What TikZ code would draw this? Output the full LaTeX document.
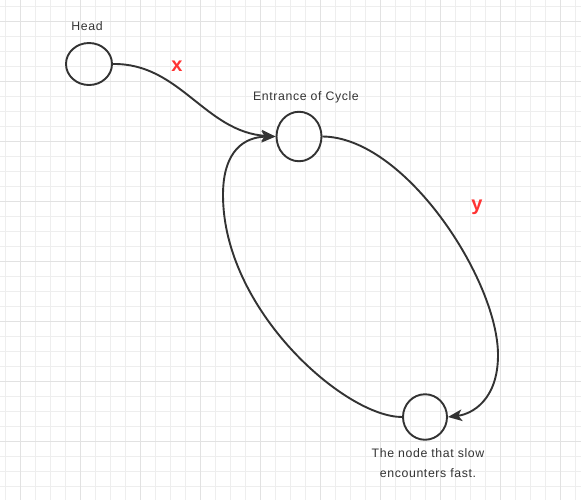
\documentclass[tikz,border=0pt]{standalone}
\usepackage{fontspec}
\setmainfont{Liberation Sans}
\usetikzlibrary{arrows.meta,shapes.geometric}
\definecolor{ink}{HTML}{333333}
\definecolor{redmark}{HTML}{FF3333}
\definecolor{gridminor}{HTML}{EEEEEE}
\definecolor{gridmajor}{HTML}{E2E2E2}
\tikzset{>={Stealth[length=14pt,width=11.5pt,inset=3.5pt]},
  every node/.style={font=\fontsize{12.3}{20}\selectfont\addfontfeatures{LetterSpace=5},text=ink},
  lnode/.style={draw=ink,line width=1.9pt,ellipse,inner sep=0pt},
  flow/.style={draw=ink,line width=1.9pt,->},
  len/.style={font=\fontsize{20}{20}\selectfont\bfseries,text=redmark}}

\begin{document}
\begin{tikzpicture}[x=1pt,y=-1pt]
\useasboundingbox (0,0) rectangle (581,499);\clip (0,0) rectangle (581,499);
\fill[white] (0,0) rectangle (581,499);
% background grid
\begin{scope}[shift={(5,6.5)}]\draw[gridminor,line width=.8pt,step=15pt] (-20,-20) grid (600,520);\end{scope}
\begin{scope}[shift={(20,21.5)}]\draw[gridmajor,line width=.8pt,step=60pt] (-80,-80) grid (620,540);\end{scope}
% list nodes
\node[lnode,minimum width=46pt,minimum height=42pt] (head) at (89,64) {};
\node[lnode,minimum width=45pt,minimum height=49.5pt] (ent) at (299,136.5) {};
\node[lnode,minimum width=44pt,minimum height=45.5pt] (meet) at (425,417) {};
\node[anchor=base] (headlbl) at (87,30) {Head};
\node[anchor=base] (entlbl) at (306,100.7) {Entrance of Cycle};
\node[anchor=north,align=center,inner sep=0pt] (meetlbl) at (428,448) {The node that slow\\ encounters fast.};
% links
\draw[flow] (head.east) .. controls (180,63) and (205,132) .. (ent.west);
\draw[flow] (ent.east) .. controls (405,137) and (498,280) .. (498,355) .. controls (498,400) and (472,414) .. (meet.east);
\draw[flow] (meet.west) .. controls (345,417) and (223,310) .. (223,195) .. controls (223,150) and (245,137) .. (ent.west);
\node[len,anchor=base] (xlbl) at (177,71.7) {x};
\node[len,anchor=base] (ylbl) at (477,210.4) {y};
\end{tikzpicture}
\end{document}
